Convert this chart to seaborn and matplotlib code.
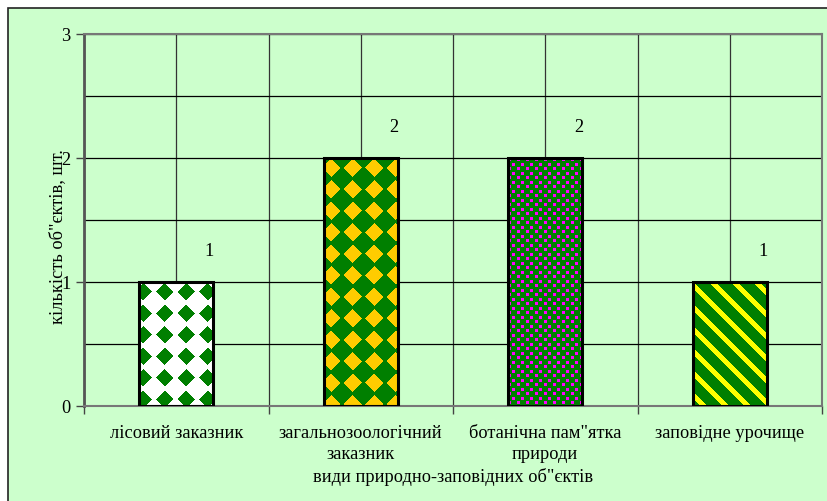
import numpy as np
import pandas as pd
import matplotlib
matplotlib.use("Agg")
import matplotlib.pyplot as plt
from matplotlib.patches import Rectangle
from matplotlib.ticker import MultipleLocator, FixedLocator
import seaborn as sns

categories = ["лісовий заказник", "загальнозоологічний\nзаказник",
              "ботанічна пам\"ятка\nприроди", "заповідне урочище"]
values = [1, 2, 2, 1]
value_labels = ["1", "2", "2", "1"]
y_ticks = [0, 1, 2, 3]
x_title = "види природно-заповідних об\"єктів"
y_title = "кількість об\"єктів, шт."

sns.set_theme(style="white")
plt.rcParams['font.family'] = ['Liberation Serif', 'DejaVu Serif']

BG = "#CCFFCC"
GREEN = (0.0, 0.5, 0.0)
WHITE = (1.0, 1.0, 1.0)
GOLD = (1.0, 0.8, 0.0)
MAGENTA = (1.0, 0.0, 1.0)
YELLOW = (1.0, 1.0, 0.0)
FS = 13.2

W, H = 827, 502
fig = plt.figure(figsize=(W / 100, H / 100), dpi=100)
fig.patch.set_facecolor("white")
fig.patches.append(Rectangle((8 / W, -0.01), 1.0, (H - 9) / H + 0.01,
                             transform=fig.transFigure, facecolor=BG,
                             edgecolor="#222222", linewidth=1.2, zorder=-10))
ax = fig.add_axes([84 / W, 1 - 407 / H, (822 - 84) / W, (407 - 35) / H])
ax.set_zorder(1)
ax.set_facecolor(BG)

df = pd.DataFrame({"cat": categories, "val": values})
sns.barplot(data=df, x="cat", y="val", width=0.4, ax=ax,
            color="white", edgecolor="black", linewidth=2.2, zorder=3)

ax.set_xlim(-0.5, 3.5)
ax.set_ylim(0, 3)
ax.set_axisbelow(True)

# grid
ax.yaxis.set_major_locator(FixedLocator(y_ticks))
ax.yaxis.set_minor_locator(MultipleLocator(0.5))
ax.xaxis.set_minor_locator(FixedLocator(np.arange(-0.5, 3.6, 0.5)))
ax.grid(True, which="both", axis="y", color="black", linewidth=0.9)
ax.grid(True, which="both", axis="x", color="#333333", linewidth=0.9)
ax.tick_params(axis="y", which="major", length=6, width=1, color="#444444",
               labelsize=FS, pad=4, left=True)
ax.tick_params(axis="y", which="minor", length=0)
ax.tick_params(axis="x", which="major", length=0, labelsize=FS, pad=13)
ax.tick_params(axis="x", which="minor", length=6, width=1, color="#444444",
               bottom=True)
ax.set_xticks(range(len(categories)))
ax.set_xticklabels(categories, fontsize=FS, linespacing=1.3)
for lab in ax.get_xticklabels() + ax.get_yticklabels():
    lab.set_color("black")

for s in ax.spines.values():
    s.set_color("#777777")
    s.set_linewidth(1.5)
    s.set_visible(True)
ax.spines["left"].set_color("#555555")
ax.spines["left"].set_linewidth(2)

ax.set_xlabel(x_title, fontsize=FS, color="black", labelpad=3.5)
ax.set_ylabel("")
fig.text(58 / W, 1 - 237 / H, y_title, rotation=90, ha="center", va="center",
         fontsize=FS, color="black", zorder=5)

# patterns
def pattern(kind, h, w):
    i, j = np.mgrid[0:h, 0:w]
    img = np.zeros((h, w, 3))
    if kind == 0:
        p = 21.5
        u = np.abs(((j + 7) % p) - p / 2)
        v = np.abs(((i + 1.5) % p) - p / 2)
        m = (u + v) < 8.8
        img[:] = WHITE
        img[m] = GREEN
    elif kind == 1:
        p = 21.5
        u = np.abs(((j + 4) % p) - p / 2)
        v = np.abs(((i + 1.5) % p) - p / 2)
        m = (u + v) < 0.44 * p
        img[:] = GREEN
        img[m] = GOLD
    elif kind == 2:
        m = (((i % 9) < 3) & ((j % 9) < 3)) | ((((i + 4) % 9) < 3) & (((j + 5) % 9) < 3))
        img[:] = GREEN
        img[m] = MAGENTA
    else:
        p = 22
        m = ((i - j) % p) < 7
        img[:] = GREEN
        img[m] = YELLOW
    return img

fig.canvas.draw()
for k, patch in enumerate(ax.patches):
    x0, y0 = patch.get_x(), patch.get_y()
    w, h = patch.get_width(), patch.get_height()
    (px0, py0), (px1, py1) = ax.transData.transform([(x0, y0), (x0 + w, y0 + h)])
    pw, ph = max(int(round(px1 - px0)), 1), max(int(round(py1 - py0)), 1)
    img = pattern(k, ph, pw)
    im = ax.imshow(img, extent=(x0, x0 + w, y0, y0 + h), origin="upper",
                   interpolation="nearest", aspect="auto", zorder=2.5)
    im.set_clip_path(patch)
    patch.set_facecolor("none")
    patch.set_zorder(3)
    ax.text(patch.get_x() + w / 2 + 0.18, y0 + h + 0.25, value_labels[k],
            ha="center", va="center", fontsize=FS, color="black", zorder=4)

ax.set_xlim(-0.5, 3.5)
ax.set_ylim(0, 3)

fig.savefig("out.png", dpi=100, facecolor=fig.get_facecolor())
